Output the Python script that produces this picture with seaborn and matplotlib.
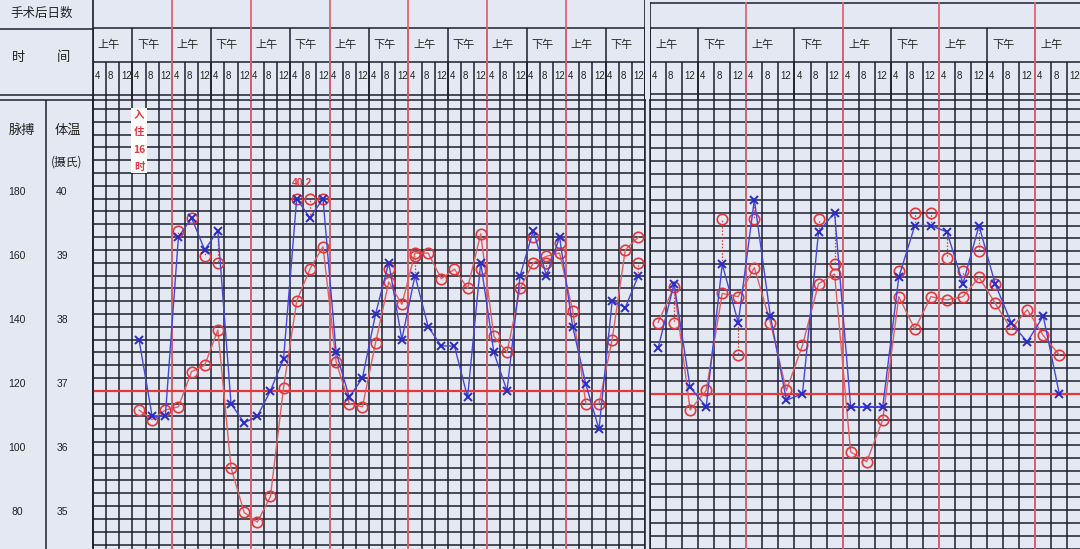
import numpy as np
import matplotlib
matplotlib.use("Agg")
import matplotlib.pyplot as plt
from matplotlib import transforms
import seaborn as sns

sns.set_style("white")
CJK = ["Noto Sans CJK SC", "DejaVu Sans"]
NUM = ["Liberation Sans Narrow", "Liberation Sans", "DejaVu Sans"]
plt.rcParams["font.family"] = CJK

# ==========================================================
# DATA  (one reading every 4 h: 4/8/12 上午, 4/8/12 下午)
# ==========================================================
# left sheet: 7 days, first reading in slot 3 (入住 16 时)
left_start = 3
left_temp = [37.8, 36.6, 36.6, 39.4, 39.7, 39.2, 39.5, 36.8, 36.5, 36.6,
             37.0, 37.5, 40.0, 39.7, 40.0, 37.6, 36.9, 37.2, 38.2, 39.0,
             37.8, 38.8, 38.0, 37.7, 37.7, 36.9, 39.0, 37.6, 37.0, 38.8,
             39.5, 38.8, 39.4, 38.0, 37.1, 36.4, 38.4, 38.3, 38.8]
left_pulse = [114, 111, 114, 115, 126, 128, 139, 96, 82, 79,
              87, 121, 148, 158, 165, 129, 116, 115, 135, 154,
              147, 163, 163, 155, 158, 152, 169, 137, 132, 152,
              160, 162, 163, 145, 116, 116, 136, 164, 168]
# re-measured temperatures (red circle, dotted to the x)
left_recheck_slot = [6, 7, 8, 9, 15, 16, 17, 22, 24, 29, 33, 34, 35, 41]
left_recheck_temp = [39.5, 39.7, 39.1, 39.0, 40.0, 40.0, 40.0, 38.9, 39.1,
                     38.9, 39.4, 39.0, 39.3, 39.0]

# right sheet (continuation), first reading in slot 0
right_start = 0
right_temp = [37.7, 38.7, 37.1, 36.8, 39.0, 38.1, 40.0, 38.2, 36.9, 37.0,
              39.5, 39.8, 36.8, 36.8, 36.8, 38.8, 39.6, 39.6, 39.5, 38.7,
              39.6, 38.7, 38.1, 37.8, 38.2, 37.0]
right_pulse = [142, 153, 115, 121, 151, 150, 159, 142, 121, 135,
               154, 157, 102, 99, 112, 150, 140, 150, 149, 150,
               156, 148, 140, 146, 138, 132]
right_recheck_slot = [1, 4, 5, 6, 10, 11, 15, 16, 17, 18, 19, 20, 21]
right_recheck_temp = [38.1, 39.7, 37.6, 39.7, 39.7, 39.0, 38.9, 39.8, 39.8,
                      39.1, 38.9, 39.2, 38.7]

pulse_ticks = [180, 160, 140, 120, 100, 80]
temp_ticks = [40, 39, 38, 37, 36, 35]
hour_labels = ["4", "8", "12"]
halfday_labels = ["上午", "下午"]
admit_note = "入\n住\n16\n时"
peak_note = "40.2"

# ==========================================================
# STYLE
# ==========================================================
W, H = 1080, 549
HEAD = 100  # header height in px
BG = "#e3e8f3"
LINE = "#1d1e2c"
DAY_RED = "#e2666e"
RED = "#e8373a"
RED_LINE = "#e45e60"
BLUE = "#2a2ac4"
BLUE_LINE = "#4646d8"


def pulse_pos(p):
    """pulse 120 <-> 37 °C, 20 beats per degree"""
    return 37 + (p - 120) / 20.0


fig = plt.figure(figsize=(W / 100, H / 100), dpi=100)
fig.patch.set_facecolor(BG)


def draw_panel(x0, x1, top_px, slots, t_top, t_bot, start, temp, pulse,
               re_slot, re_temp, right_border):
    left = x0 / W
    width = (x1 - x0) / W
    grid_h = (H - HEAD) / H

    # ------------- grid + data -------------
    ax = fig.add_axes([left, 0, width, grid_h])
    ax.set_facecolor(BG)
    ax.set_xlim(0, slots)
    ax.set_ylim(t_bot, t_top)
    ax.set_xticks(np.arange(0, int(slots) + 1))
    ax.set_yticks(np.round(np.arange(34.6, 41.45, 0.2), 1))
    ax.grid(True, color=LINE, lw=1.1)
    ax.set_axisbelow(True)
    ax.tick_params(length=0, labelbottom=False, labelleft=False)
    for s in ax.spines.values():
        s.set_color(LINE)
        s.set_linewidth(1.1)
    ax.spines["right"].set_visible(right_border)
    ax.spines["bottom"].set_visible(False)

    for k in range(6, int(slots), 6):
        ax.axvline(k, color=DAY_RED, lw=1.3, zorder=1.5)
    ax.axhline(37, color=RED, lw=1.6, zorder=1.6)

    xs = np.arange(start, start + len(temp)) + 0.5
    sns.lineplot(x=xs, y=[pulse_pos(p) for p in pulse], ax=ax,
                 color=RED_LINE, lw=1.0, marker="o", markersize=7.5,
                 markerfacecolor="none", markeredgecolor=RED,
                 markeredgewidth=1.2, zorder=3)

    tmap = dict(zip(range(start, start + len(temp)), temp))
    rx = np.array(re_slot) + 0.5
    ax.vlines(rx, [tmap[s] for s in re_slot], re_temp, colors=RED,
              linestyles=(0, (1.2, 1.4)), lw=0.9, zorder=2.5)
    sns.lineplot(x=rx, y=re_temp, ax=ax, linestyle="none", marker="o",
                 markersize=7.5, markerfacecolor="none",
                 markeredgecolor=RED, markeredgewidth=1.2, zorder=3)

    sns.lineplot(x=xs, y=temp, ax=ax, color=BLUE_LINE, lw=1.0, marker="x",
                 markersize=5.5, markeredgecolor=BLUE,
                 markeredgewidth=1.4, zorder=4)

    # ------------- header -------------
    hx = fig.add_axes([left, grid_h, width, (HEAD - top_px) / H])
    hx.set_facecolor(BG)
    hx.set_xlim(0, slots)
    hx.set_ylim(HEAD, top_px)
    hx.axis("off")
    hx.hlines([28, 62, 94.5], 0, slots, colors=LINE, lw=1.1)
    if top_px > 0:
        hx.hlines(top_px + 0.6, 0, slots, colors=LINE, lw=1.1)
    n = int(slots)
    hx.vlines(np.arange(0, n + 1), 62, HEAD, colors=LINE, lw=1.1)
    hx.vlines(np.arange(0, n + 1, 3), 28, HEAD, colors=LINE, lw=1.1)
    hx.vlines(0, top_px, HEAD, colors=LINE, lw=1.2)
    if right_border:
        hx.vlines(slots, top_px, HEAD, colors=LINE, lw=1.2)
    days = [k for k in range(6, n + 1, 6) if k < slots]
    hx.vlines(days, top_px, HEAD, colors=DAY_RED, lw=1.3, zorder=3)

    for h in range(int(np.ceil(slots / 3))):
        hx.text(3 * h + 0.35, 45, halfday_labels[h % 2], fontsize=8,
                va="center", ha="left", color="#222")
    for k in range(n + 1):
        if k + 0.4 < slots:
            hx.text(k + 0.12, 76, hour_labels[k % 3], fontsize=7,
                    family=NUM, va="center", ha="left", color="#222")
    return ax


ax_l = draw_panel(93, 645, 0, 42, 41.54, 34.53, left_start, left_temp,
                  left_pulse, left_recheck_slot, left_recheck_temp, True)
ax_r = draw_panel(650, 1080, 2, 26.79, 41.54, 34.67, right_start,
                  right_temp, right_pulse, right_recheck_slot,
                  right_recheck_temp, False)

# notes on the left sheet
ax_l.text(left_start + 0.5, 40.9, admit_note, color=RED, fontsize=7.5,
          fontweight="bold", ha="center", va="center", linespacing=1.9,
          zorder=5, bbox=dict(fc="white", ec="none", pad=1.2))
peak_i = left_temp.index(max(left_temp))
ax_l.annotate(peak_note, xy=(left_start + peak_i + 0.5, left_temp[peak_i]),
              xytext=(4, 11), textcoords="offset points", color=RED,
              fontsize=7.5, fontweight="bold", family=NUM, ha="center",
              va="center", zorder=5)

# ==========================================================
# LABEL COLUMN
# ==========================================================
lab = fig.add_axes([0, 0, 93 / W, 1])
lab.set_facecolor(BG)
lab.set_xlim(0, 93)
lab.set_ylim(H, 0)
lab.axis("off")
lab.hlines([28.5, 94.5, 99.5], 0, 93, colors=LINE, lw=1.1)
lab.vlines(92.5, 0, H, colors=LINE, lw=1.2)
lab.vlines(46, HEAD, H, colors=LINE, lw=1.1)
lab.text(10, 13, "手术后日数", fontsize=9, ha="left", va="center", color="#222")
lab.text(12, 57, "时", fontsize=9.5, ha="left", va="center", color="#222")
lab.text(57, 57, "间", fontsize=9.5, ha="left", va="center", color="#222")
lab.text(22, 130, "脉搏", fontsize=9.5, ha="center", va="center", color="#222")
lab.text(68, 130, "体温", fontsize=9.5, ha="center", va="center", color="#222")
lab.text(67, 162, "(摄氏)", fontsize=8.5, ha="center", va="center", color="#222")

blend = transforms.blended_transform_factory(lab.transData, ax_l.transData)
for p in pulse_ticks:
    lab.text(17, pulse_pos(p) + 0.1, str(p), transform=blend, fontsize=7.5,
             family=NUM, ha="center", va="center", color="#222")
for t in temp_ticks:
    lab.text(62, t + 0.1, str(t), transform=blend, fontsize=7.5,
             family=NUM, ha="center", va="center", color="#222")

fig.savefig("out.png", dpi=100, facecolor=BG)
